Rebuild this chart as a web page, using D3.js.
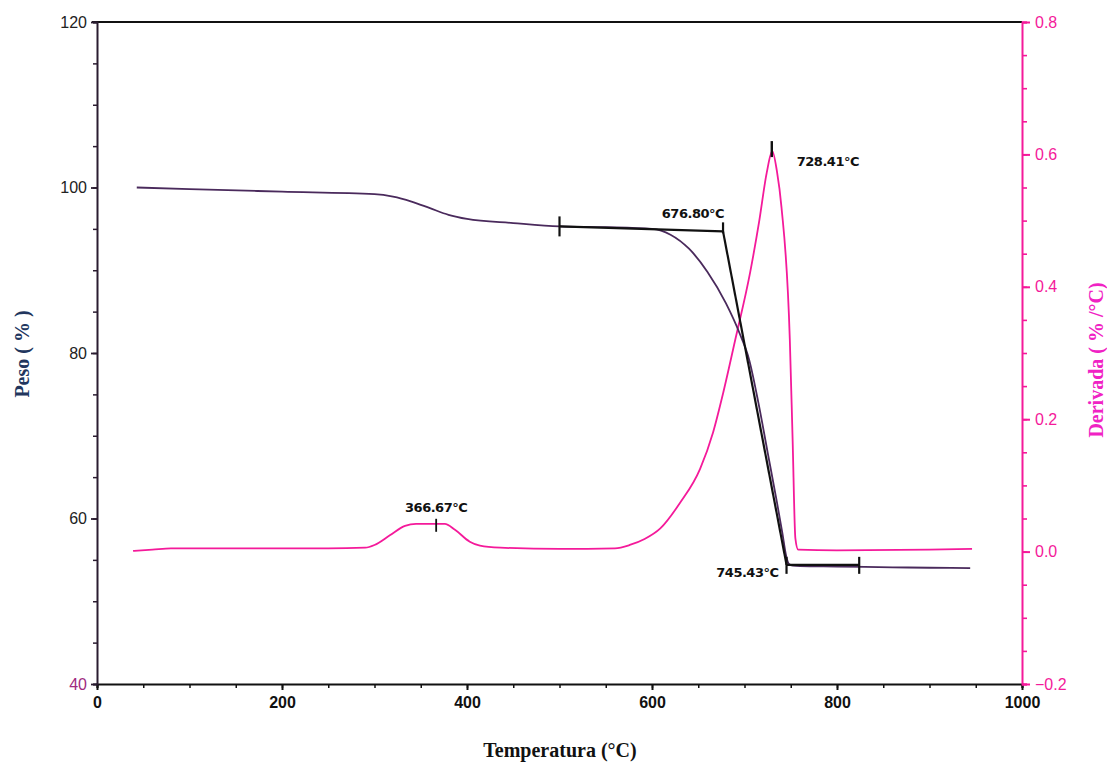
<!DOCTYPE html>
<html>
<head>
<meta charset="utf-8">
<script src="https://cdn.jsdelivr.net/npm/d3@7"></script>
<style>
  html, body { margin: 0; padding: 0; background: #ffffff; }
  svg { display: block; }
</style>
</head>
<body>
<svg id="chart" width="1107" height="763"></svg>
<script>
// ---- Data ----
const weightT   = [43, 100, 200, 300, 320, 340, 360, 380, 400, 450, 500, 550, 600, 620, 640, 660, 680, 695, 705, 715, 725, 735, 741, 745, 748, 752, 760, 800, 860, 900, 944];
const weightPct = [100.0, 99.8, 99.5, 99.2, 98.9, 98.3, 97.5, 96.7, 96.2, 95.7, 95.3, 95.2, 95.0, 94.3, 92.6, 89.8, 86.0, 82.3, 79.2, 74.0, 68.0, 62.0, 58.2, 55.5, 54.5, 54.3, 54.25, 54.2, 54.1, 54.05, 54.0];

const dtgT   = [39, 60, 80, 150, 250, 290, 300, 317, 333, 345, 376, 387, 403, 414, 436, 500, 560, 576, 592, 609, 630, 652, 666, 677, 690, 706, 716, 724, 730, 735, 740, 749, 752, 755, 758, 800, 900, 946];
const dtgVal = [0.001, 0.003, 0.005, 0.005, 0.005, 0.006, 0.010, 0.025, 0.039, 0.042, 0.042, 0.033, 0.015, 0.009, 0.006, 0.004, 0.005, 0.010, 0.019, 0.035, 0.073, 0.125, 0.180, 0.240, 0.320, 0.421, 0.500, 0.572, 0.605, 0.575, 0.520, 0.320, 0.170, 0.020, 0.003, 0.002, 0.003, 0.004];

const xTicks      = [0, 200, 400, 600, 800, 1000];
const yLeftTicks  = [40, 60, 80, 100, 120];
const yRightTicks = [-0.2, 0.0, 0.2, 0.4, 0.6, 0.8];

// Onset construction (weight curve)
const onsetBaseT   = [500, 676.80];
const onsetBaseW   = [95.3, 94.7];
const endsetT      = 745.43;
const endsetW      = 54.4;
const endBaseEndT  = 824;

// Annotation labels
const dtgPeak1T = 366.67, dtgPeak1V = 0.042;
const dtgPeak2T = 728.41, dtgPeak2V = 0.605;
const labelPeak1  = "366.67°C";
const labelOnset  = "676.80°C";
const labelPeak2  = "728.41°C";
const labelEndset = "745.43°C";

const xTitle  = "Temperatura (°C)";
const yLTitle = "Peso ( % )";
const yRTitle = "Derivada ( % /°C)";

// ---- Layout ----
const mLeft = 97, mRight = 1022, mTop = 22, mBottom = 684;
const svg = d3.select("#chart");

const x  = d3.scaleLinear().domain([0, 1000]).range([mLeft, mRight]);
const yL = d3.scaleLinear().domain([40, 120]).range([mBottom, mTop]);
const yR = d3.scaleLinear().domain([-0.2, 0.8]).range([mBottom, mTop]);

const pink = "#f41a9a";
const purple = "#4a2a5c";
const axisDark = "#2a1c30";

// Top border
svg.append("line").attr("x1", mLeft - 5).attr("x2", mRight).attr("y1", mTop).attr("y2", mTop)
  .attr("stroke", "#111").attr("stroke-width", 2.2);

// Bottom axis
const gx = svg.append("g").attr("transform", `translate(0,${mBottom})`);
gx.call(d3.axisBottom(x).tickValues(d3.range(0, 1001, 50)).tickSize(4).tickFormat(""))
  .call(g => g.select(".domain").attr("stroke", "#111").attr("stroke-width", 2));
gx.selectAll(".tick line").attr("stroke", "#111").attr("stroke-width", 1.5);
const gx2 = svg.append("g").attr("transform", `translate(0,${mBottom})`);
gx2.call(d3.axisBottom(x).tickValues(xTicks).tickSize(6).tickFormat(d3.format("d")))
  .call(g => g.select(".domain").remove());
gx2.selectAll(".tick line").attr("stroke", "#111").attr("stroke-width", 2);
gx2.selectAll(".tick text").attr("font-family", "Liberation Sans, Arial, sans-serif")
  .attr("font-weight", "bold").attr("font-size", 16).attr("fill", "#111").attr("dy", "0.95em");

// Left axis
const gl = svg.append("g").attr("transform", `translate(${mLeft},0)`);
gl.call(d3.axisLeft(yL).tickValues(d3.range(40, 121, 5)).tickSize(4).tickFormat(""))
  .call(g => g.select(".domain").attr("stroke", axisDark).attr("stroke-width", 2));
gl.selectAll(".tick line").attr("stroke", axisDark).attr("stroke-width", 1.5);
const gl2 = svg.append("g").attr("transform", `translate(${mLeft},0)`);
gl2.call(d3.axisLeft(yL).tickValues(yLeftTicks).tickSize(6).tickPadding(4).tickFormat(d3.format("d")))
  .call(g => g.select(".domain").remove());
gl2.selectAll(".tick line").attr("stroke", axisDark).attr("stroke-width", 1.8);
gl2.selectAll(".tick text").attr("font-family", "Liberation Sans, Arial, sans-serif")
  .attr("font-size", 16).attr("fill", d => d === 40 ? "#a02a80" : "#222");

// Right axis
const gr = svg.append("g").attr("transform", `translate(${mRight},0)`);
gr.call(d3.axisRight(yR).tickValues(d3.range(-4, 17).map(i => i * 0.05)).tickSize(5).tickFormat(""))
  .call(g => g.select(".domain").attr("stroke", pink).attr("stroke-width", 2));
gr.selectAll(".tick line").attr("stroke", pink).attr("stroke-width", 1.6);
const gr2 = svg.append("g").attr("transform", `translate(${mRight},0)`);
gr2.call(d3.axisRight(yR).tickValues(yRightTicks).tickSize(8).tickPadding(5).tickFormat(d3.format(".1f")))
  .call(g => g.select(".domain").remove());
gr2.selectAll(".tick line").attr("stroke", pink).attr("stroke-width", 2);
gr2.selectAll(".tick text").attr("font-family", "Liberation Sans, Arial, sans-serif")
  .attr("font-size", 16).attr("fill", pink);

// Curves
const wData = weightT.map((t, i) => [t, weightPct[i]]);
const dData = dtgT.map((t, i) => [t, dtgVal[i]]);

svg.append("path").datum(dData)
  .attr("d", d3.line().x(d => x(d[0])).y(d => yR(d[1])).curve(d3.curveMonotoneX))
  .attr("fill", "none").attr("stroke", pink).attr("stroke-width", 1.8);

svg.append("path").datum(wData)
  .attr("d", d3.line().x(d => x(d[0])).y(d => yL(d[1])).curve(d3.curveMonotoneX))
  .attr("fill", "none").attr("stroke", purple).attr("stroke-width", 1.8);

// Onset / endset construction lines
const blk = "#111";
const cons = svg.append("g").attr("stroke", blk).attr("stroke-width", 2.2).attr("fill", "none");
cons.append("line")
  .attr("x1", x(onsetBaseT[0])).attr("y1", yL(onsetBaseW[0]))
  .attr("x2", x(onsetBaseT[1])).attr("y2", yL(onsetBaseW[1]));
cons.append("line")
  .attr("x1", x(onsetBaseT[1])).attr("y1", yL(onsetBaseW[1]))
  .attr("x2", x(endsetT)).attr("y2", yL(endsetW));
cons.append("line")
  .attr("x1", x(endsetT)).attr("y1", yL(endsetW))
  .attr("x2", x(endBaseEndT)).attr("y2", yL(endsetW));
// end ticks
cons.append("line").attr("x1", x(onsetBaseT[0])).attr("x2", x(onsetBaseT[0]))
  .attr("y1", yL(onsetBaseW[0]) - 10).attr("y2", yL(onsetBaseW[0]) + 10);
cons.append("line").attr("x1", x(onsetBaseT[1])).attr("x2", x(onsetBaseT[1]))
  .attr("y1", yL(onsetBaseW[1]) - 9).attr("y2", yL(onsetBaseW[1]) + 2);
cons.append("line").attr("x1", x(endsetT)).attr("x2", x(endsetT))
  .attr("y1", yL(endsetW) - 8).attr("y2", yL(endsetW) + 9);
cons.append("line").attr("x1", x(endBaseEndT)).attr("x2", x(endBaseEndT))
  .attr("y1", yL(endsetW) - 8).attr("y2", yL(endsetW) + 9);
// DTG peak markers
cons.append("line").attr("x1", x(dtgPeak1T)).attr("x2", x(dtgPeak1T))
  .attr("y1", yR(dtgPeak1V) - 5).attr("y2", yR(dtgPeak1V) + 8).attr("stroke-width", 1.8);
cons.append("line").attr("x1", x(dtgPeak2T) + 1).attr("x2", x(dtgPeak2T) + 1)
  .attr("y1", yR(dtgPeak2V) - 10).attr("y2", yR(dtgPeak2V) + 6).attr("stroke-width", 2.4);

// Annotation text
const annFont = "DejaVu Sans, Verdana, sans-serif";
function ann(txt, px, py, anchor) {
  svg.append("text").attr("x", px).attr("y", py).attr("text-anchor", anchor)
    .attr("font-family", annFont).attr("font-weight", "bold").attr("font-size", 13)
    .attr("letter-spacing", "-0.5").attr("fill", "#111").text(txt);
}
ann(labelPeak1, x(dtgPeak1T), yR(dtgPeak1V) - 12, "middle");
ann(labelOnset, x(onsetBaseT[1]) + 1, yL(onsetBaseW[1]) - 13, "end");
ann(labelPeak2, x(dtgPeak2T) + 26, yR(dtgPeak2V) + 15, "start");
ann(labelEndset, x(endsetT) - 8, yL(endsetW) + 12, "end");

// Axis titles
svg.append("text").attr("x", 560).attr("y", 757).attr("text-anchor", "middle")
  .attr("font-family", "Liberation Serif, Times New Roman, serif").attr("font-weight", "bold")
  .attr("font-size", 20).attr("fill", "#111").text(xTitle);
svg.append("text").attr("transform", "translate(29,354) rotate(-90)").attr("text-anchor", "middle")
  .attr("font-family", "Liberation Serif, Times New Roman, serif").attr("font-weight", "bold")
  .attr("font-size", 20).attr("fill", "#22365e").text(yLTitle);
svg.append("text").attr("transform", "translate(1103,360) rotate(-90)").attr("text-anchor", "middle")
  .attr("font-family", "Liberation Serif, Times New Roman, serif").attr("font-weight", "bold")
  .attr("font-size", 20).attr("fill", "#f022c4").text(yRTitle);
</script>
</body>
</html>
